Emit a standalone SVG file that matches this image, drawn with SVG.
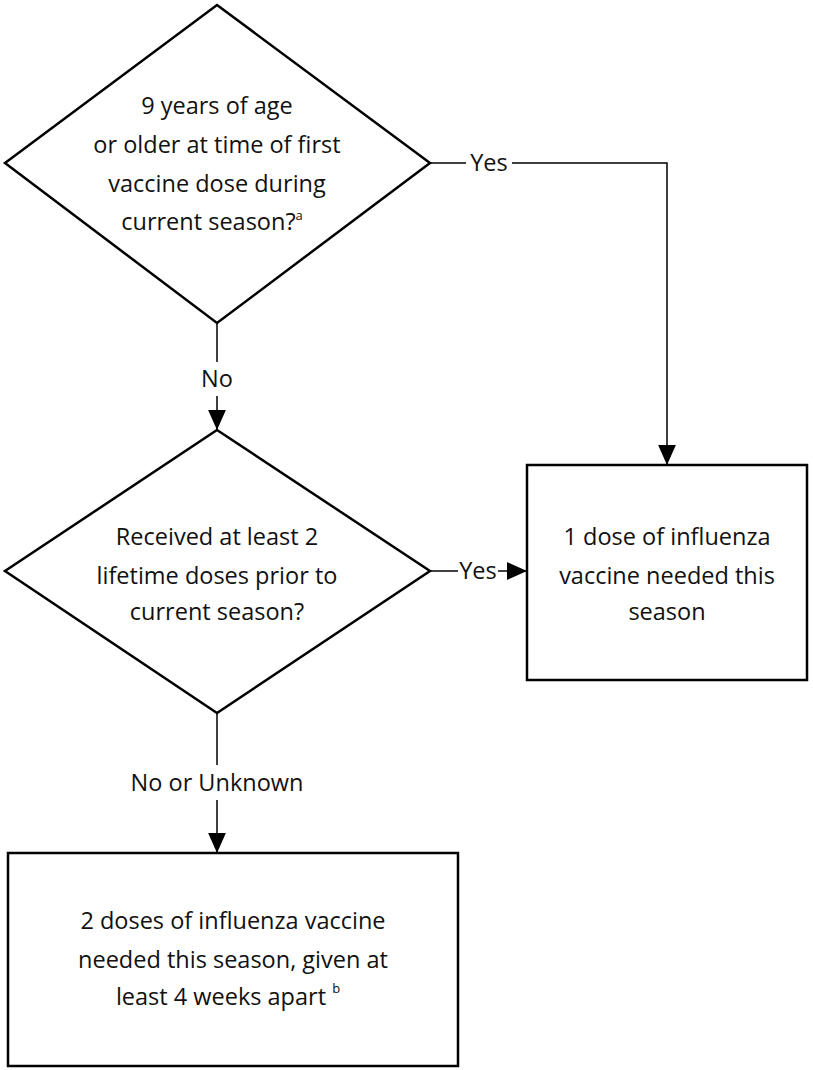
<svg xmlns="http://www.w3.org/2000/svg" width="813" height="1070" viewBox="0 0 813 1070">
<defs>
<style>
.s{fill:#fff;stroke:#000;stroke-width:2.5}
.l{fill:none;stroke:#000;stroke-width:1.5}
text{font-family:"Open Sans","Liberation Sans",sans-serif;font-size:23.5px;text-anchor:middle;fill:#111}
.sup{font-size:13px}
</style>
<marker id="a" markerWidth="20" markerHeight="20" refX="18" refY="8" orient="auto" markerUnits="userSpaceOnUse" viewBox="0 0 18 16"><path d="M0,0L18,8L0,16Z" fill="#000"/></marker>
</defs>
<rect width="813" height="1070" fill="#fff"/>
<g id="connectors">
<path class="l" d="M430,163H466"/><path class="l" d="M512,163H667V465" marker-end="url(#a)"/>
<text x="489" y="171">Yes</text>
<path class="l" d="M217,323V362"/><path class="l" d="M217,396V430" marker-end="url(#a)"/>
<text x="217" y="387">No</text>
<path class="l" d="M430,571H458"/><path class="l" d="M498,571H527" marker-end="url(#a)"/>
<text x="478" y="579">Yes</text>
<path class="l" d="M217,713V765"/><path class="l" d="M217,800V853" marker-end="url(#a)"/>
<text x="217" y="791">No or Unknown</text>
</g>
<g id="q1">
<polygon class="s" points="217,5 430,163 217,323 5,163"/>
<text x="217" y="114">9 years of age</text>
<text x="217" y="153">or older at time of first</text>
<text x="217" y="192">vaccine dose during</text>
<text x="212" y="230">current season?<tspan class="sup" dy="-10">a</tspan></text>
</g>
<g id="q2">
<polygon class="s" points="217,430 430,571 217,713 5,571"/>
<text x="217" y="545">Received at least 2</text>
<text x="217" y="584">lifetime doses prior to</text>
<text x="217" y="620">current season?</text>
</g>
<g id="one">
<rect class="s" x="527" y="465" width="280" height="215"/>
<text x="667" y="545">1 dose of influenza</text>
<text x="667" y="584">vaccine needed this</text>
<text x="667" y="620">season</text>
</g>
<g id="two">
<rect class="s" x="8" y="853" width="450" height="213"/>
<text x="233" y="929">2 doses of influenza vaccine</text>
<text x="233" y="968">needed this season, given at</text>
<text x="228" y="1005">least 4 weeks apart <tspan class="sup" dy="-12">b</tspan></text>
</g>
</svg>
